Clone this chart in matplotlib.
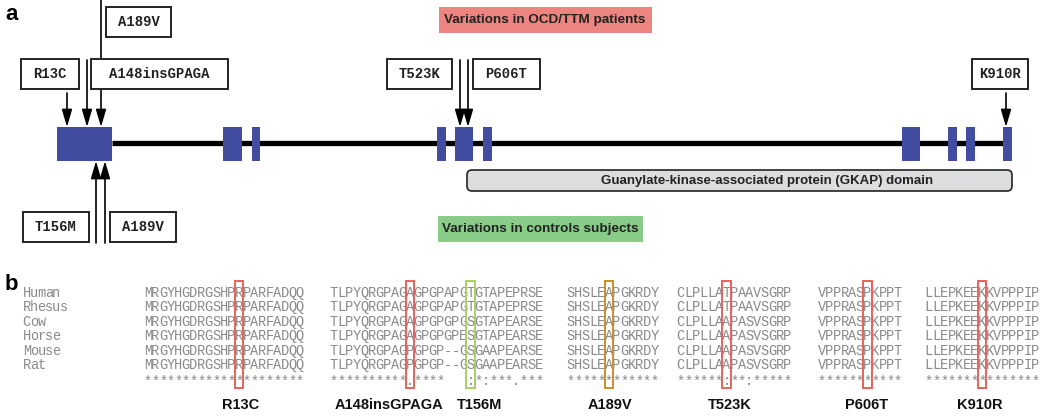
import matplotlib.pyplot as plt
from matplotlib.patches import Rectangle, FancyBboxPatch

# ---- panel a: gene model (x in diagram units, 0-1050) ----
exon_start = [57, 223, 252, 437, 455, 483, 902, 948, 966, 1003]
exon_end = [112, 242, 260, 446, 473, 492, 920, 957, 975, 1012]

# variations in OCD/TTM patients (above the gene)
case_labels = ['R13C', 'A148insGPAGA', 'A189V', 'T523K', 'P606T', 'K910R']
case_site = [67, 87, 101, 460, 468, 1006]
# variations in control subjects (below the gene)
ctrl_labels = ['T156M', 'A189V']
ctrl_site = [96, 105]

# ---- panel b: alignment ----
species = ['Human', 'Rhesus', 'Cow', 'Horse', 'Mouse', 'Rat']
aln_names = ['R13C', 'A148insGPAGA', 'A189V', 'T523K', 'P606T', 'K910R']
aln_seqs = [
    ['MRGYHGDRGSHPRPARFADQQ'] * 6,
    ['TLPYQRGPAGAGPGPAPGTGTAPEPRSE', 'TLPYQRGPAGAGPGPAPGTGTAPEPRSE',
     'TLPYQRGPAGAGPGPGPGSGTAPEARSE', 'TLPYQRGPAGAGPGPGPESGTAPEARSE',
     'TLPYQRGPAGPGPGP--GSGAAPEARSE', 'TLPYQRGPAGPGPGP--GSGAAPEARSE'],
    ['SHSLEAPGKRDY'] * 6,
    ['CLPLLATPAAVSGRP', 'CLPLLATPAAVSGRP', 'CLPLLAAPASVSGRP',
     'CLPLLAAPASVSGRP', 'CLPLLAAPASVSGRP', 'CLPLLAAPASVSGRP'],
    ['VPPRASPKPPT'] * 6,
    ['LLEPKEEKKVPPPIP'] * 6,
]
aln_cons = ['*********************', '**********.****   :*:***.***',
            '************', '******:**:*****', '***********',
            '***************']
# highlighted column(s) per block: (index, colour, label)
aln_marks = [
    [(12, '#E8625C', 'R13C')],
    [(10, '#E8625C', 'A148insGPAGA'), (18, '#A8D060', 'T156M')],
    [(5, '#C8902A', 'A189V')],
    [(6, '#E8625C', 'T523K')],
    [(6, '#E8625C', 'P606T')],
    [(7, '#E8625C', 'K910R')],
]
aln_x0 = [144, 330, 567, 677, 818, 925]

fig = plt.figure(figsize=(10.5, 4.16), dpi=100)
ax = fig.add_axes([0, 0, 1, 1])
ax.set_xlim(0, 1050)
ax.set_ylim(416, 0)
ax.axis('off')

mono = 'Liberation Mono'
sans = 'Liberation Sans'

ax.text(5, 15, 'a', fontsize=16, fontweight='bold', family=sans, va='center')
ax.text(5, 284, 'b', fontsize=16, fontweight='bold', family=sans, va='center')

# backbone + exons
ax.plot([exon_end[0], exon_start[-1]], [143, 143], color='k', lw=3.8, zorder=1,
        solid_capstyle='butt')
for s, e in zip(exon_start, exon_end):
    ax.add_patch(Rectangle((s, 127), e - s, 34, facecolor='#434DA0',
                           edgecolor='none', zorder=2))

# GKAP domain
ax.add_patch(FancyBboxPatch((467, 170), 545, 21,
                            boxstyle='round,pad=0,rounding_size=5',
                            facecolor='#DCDDDE', edgecolor='#222222', lw=1.2,
                            zorder=2))
ax.text(767, 181, 'Guanylate-kinase-associated protein (GKAP) domain',
        ha='center', va='center', fontsize=9.5, fontweight='bold',
        family=sans, color='#222222')

# group titles
ax.add_patch(Rectangle((439, 7), 213, 26, facecolor='#EC8580',
                       edgecolor='none'))
ax.text(545, 20, 'Variations in OCD/TTM patients', ha='center', va='center',
        fontsize=9.7, fontweight='bold', family=sans, color='#222222')
ax.add_patch(Rectangle((438, 216), 205, 26, facecolor='#88CC88',
                       edgecolor='none'))
ax.text(540, 229, 'Variations in controls subjects', ha='center',
        va='center', fontsize=9.7, fontweight='bold', family=sans,
        color='#222222')

ahead = '-|>,head_length=0.75,head_width=0.22'


def arrow(x, y0, y1):
    ax.annotate('', xy=(x, y1), xytext=(x, y0),
                arrowprops=dict(arrowstyle=ahead, color='k', lw=1.2,
                                shrinkA=0, shrinkB=0, mutation_scale=14),
                zorder=3)


def label_box(x0, y0, x1, y1, txt):
    ax.add_patch(Rectangle((x0, y0), x1 - x0, y1 - y0, facecolor='white',
                           edgecolor='#222222', lw=1.4, zorder=4))
    ax.text((x0 + x1) / 2, (y0 + y1) / 2, txt, ha='center', va='center',
            fontsize=10, fontweight='bold', family=mono, color='#222222',
            zorder=5)


# boxes for patient variants
case_boxes = [(21, 59, 79, 89), (91, 59, 228, 89), (106, 7, 171, 37),
              (387, 59, 452, 89), (473, 59, 540, 89), (972, 59, 1028, 89)]
case_top = [93, 60, 0, 60, 60, 93]
for lab, x, b, y0 in zip(case_labels, case_site, case_boxes, case_top):
    arrow(x, y0, 127)
    label_box(*b, lab)

ctrl_boxes = [(23, 212, 89, 242), (110, 212, 176, 242)]
for lab, x, b in zip(ctrl_labels, ctrl_site, ctrl_boxes):
    arrow(x, 243, 161)
    label_box(*b, lab)

# ---- alignment ----
cw = 7.6
fs = 9.8
row_y = [293 + 14.4 * i for i in range(7)]
gray = '#8A8A8A'
for name, y in zip(species, row_y):
    for i, ch in enumerate(name):
        ax.text(23 + 7.4 * (i + 0.5), y, ch, family=mono, fontsize=fs,
                color=gray, ha='center', va='center')

for x0, seqs, cons, marks in zip(aln_x0, aln_seqs, aln_cons, aln_marks):
    for seq, y in zip(seqs, row_y):
        for i, ch in enumerate(seq):
            ax.text(x0 + cw * (i + 0.5), y, ch, family=mono, fontsize=fs,
                    color=gray, ha='center', va='center')
    for i, ch in enumerate(cons):
        if ch != ' ':
            ax.text(x0 + cw * (i + 0.5), row_y[6] + 2, ch, family=mono,
                    fontsize=fs, color=gray, ha='center', va='center')
    for idx, col, lab in marks:
        ax.add_patch(Rectangle((x0 + cw * idx - 0.5, 281), cw + 1, 107,
                               facecolor='none', edgecolor=col, lw=1.4,
                               zorder=3))

# labels under the alignment
b_labels = ['R13C', 'A148insGPAGA', 'T156M', 'A189V', 'T523K', 'P606T', 'K910R']
b_label_x = [241, 389, 480, 610, 730, 867, 980]
for lab, x in zip(b_labels, b_label_x):
    ax.text(x, 405, lab, ha='center', va='center', fontsize=10.5,
            fontweight='bold', family=sans, color='#111111')

fig.savefig('out.png', dpi=100)
